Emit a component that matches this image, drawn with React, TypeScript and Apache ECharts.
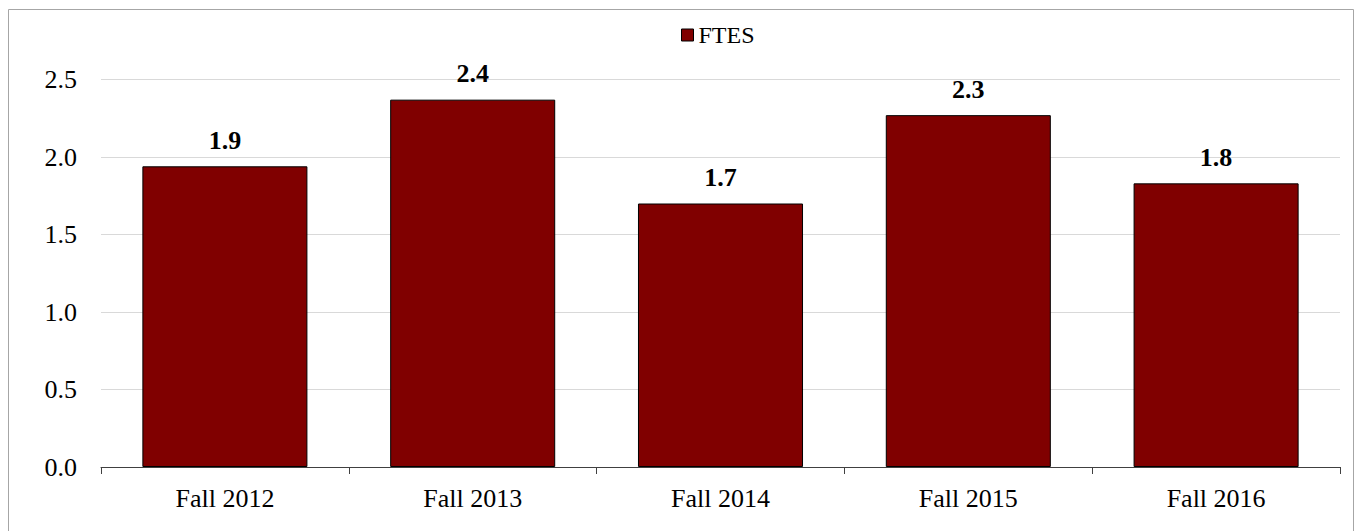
import React, { useEffect, useRef } from "react";
import * as echarts from "echarts";

const categories = ["Fall 2012", "Fall 2013", "Fall 2014", "Fall 2015", "Fall 2016"];
const ftesValues = [1.94, 2.37, 1.7, 2.27, 1.83];
const seriesName = "FTES";

const FONT = "'Liberation Serif', 'Times New Roman', serif";

export default function App() {
  const ref = useRef<HTMLDivElement>(null);
  useEffect(() => {
    if (!ref.current) return;
    const chart = echarts.init(ref.current, null, { renderer: "svg" });
    chart.setOption({
      animation: false,
      backgroundColor: "#ffffff",
      textStyle: { fontFamily: FONT },
      graphic: [
        {
          type: "rect",
          shape: { x: 8.5, y: 9.5, width: 1345, height: 530 },
          style: { fill: "none", stroke: "#a6a6a6", lineWidth: 1 },
          silent: true,
        },
      ],
      legend: {
        left: 676,
        top: 18,
        itemWidth: 12,
        itemHeight: 12,
        itemGap: 10,
        icon: "rect",
        textStyle: { fontFamily: FONT, fontSize: 24, color: "#000" },
        data: [{ name: seriesName, itemStyle: { color: "#800000", borderColor: "#000", borderWidth: 1 } }],
      },
      grid: { left: 101, right: 15, top: 79.5, bottom: 64, containLabel: false },
      xAxis: {
        type: "category",
        data: categories,
        axisLine: { lineStyle: { color: "#404040", width: 1 } },
        axisTick: { show: true, length: 7, alignWithLabel: false, lineStyle: { color: "#404040" } },
        axisLabel: { fontFamily: FONT, fontSize: 26, color: "#000", margin: 18 },
      },
      yAxis: {
        type: "value",
        min: 0,
        max: 2.5,
        interval: 0.5,
        axisLine: { show: false },
        axisTick: { show: false },
        splitLine: { lineStyle: { color: "#d9d9d9", width: 1 } },
        axisLabel: {
          fontFamily: FONT,
          fontSize: 26,
          color: "#000",
          margin: 24,
          formatter: (v: number) => v.toFixed(1),
        },
      },
      series: [
        {
          name: seriesName,
          type: "bar",
          data: ftesValues,
          barCategoryGap: "33.4%",
          itemStyle: { color: "#800000", borderColor: "#000", borderWidth: 1 },
          label: {
            show: true,
            position: "top",
            distance: 13,
            fontFamily: FONT,
            fontSize: 26,
            fontWeight: "bold",
            color: "#000",
            formatter: (p: any) => Number(p.value).toFixed(1),
          },
        },
      ],
    });
    return () => chart.dispose();
  }, []);
  return (
    <div
      ref={ref}
      style={{ position: "absolute", left: 0, top: 0, width: 1355, height: 531 }}
    />
  );
}
